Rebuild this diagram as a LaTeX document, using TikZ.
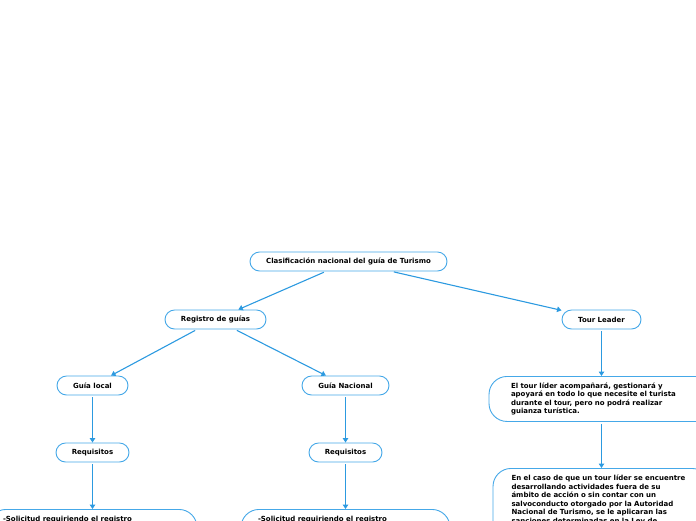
\documentclass[tikz,border=0pt]{standalone}
\usepackage{fontspec}
\setmainfont{DejaVu Sans}
\usetikzlibrary{arrows.meta}
\definecolor{edgeblue}{HTML}{2C9AE0}
\definecolor{boxblue}{HTML}{45A8E8}
\begin{document}
\begin{tikzpicture}[x=1pt,y=-1pt,
  pill/.style={draw=boxblue, line width=0.9pt, fill=white, rounded corners=9.5pt,
    minimum height=19pt, inner xsep=4pt, inner ysep=0pt,
    font=\fontsize{7}{8.5}\selectfont\bfseries},
  bigbox/.style={draw=boxblue, line width=0.9pt, fill=white, rounded corners=18pt,
    align=left, font=\fontsize{7}{8.5}\selectfont\bfseries},
  conn/.style={draw=edgeblue, line width=1.1pt,
    -{Triangle[length=4.5pt,width=5.5pt]}, shorten <=2pt}]
\useasboundingbox (0,0) rectangle (696,520);

\node[pill, minimum width=197pt] (top) at (348.5,261.5) {Clasificación nacional del guía de Turismo};
\node[pill, minimum width=101pt] (reg) at (215.5,319.5) {Registro de guías};
\node[pill, minimum width=79pt] (tl) at (601.5,319.5) {Tour Leader};
\node[pill, minimum width=71pt] (gl) at (92.5,385.5) {Guía local};
\node[pill, minimum width=87pt] (gn) at (345.5,385.5) {Guía Nacional};
\node[pill, minimum width=73pt] (rq1) at (92.5,452.5) {Requisitos};
\node[pill, minimum width=73pt] (rq2) at (345.5,452.5) {Requisitos};

\node[bigbox, text width=181pt, inner xsep=22pt, minimum height=45pt, anchor=north] (desc) at (601.5,376)
  {El tour líder acompañará, gestionará y\\apoyará en todo lo que necesite el turista\\durante el tour, pero no podrá realizar\\guianza turística.};
\node[bigbox, text width=180pt, inner xsep=18.5pt, inner ysep=7pt, text height=5.5pt, text depth=60pt, anchor=north] (sol3) at (601.5,468)
  {En el caso de que un tour líder se encuentre\\desarrollando actividades fuera de su\\ámbito de acción o sin contar con un\\salvoconducto otorgado por la Autoridad\\Nacional de Turismo, se le aplicaran las\\sanciones determinadas en la Ley de};
\node[bigbox, text width=179pt, inner xsep=15pt, inner ysep=7pt, text height=5.5pt, text depth=40pt, anchor=north] (sol1) at (92.5,509)
  {-Solicitud requiriendo el registro};
\node[bigbox, text width=175pt, inner xsep=17pt, inner ysep=7pt, text height=5.5pt, text depth=40pt, anchor=north] (sol2) at (345.5,509)
  {-Solicitud requiriendo el registro};

\draw[conn] (top) -- (reg);
\draw[conn] (top) -- (tl);
\draw[conn] (reg) -- (gl);
\draw[conn] (reg) -- (gn);
\draw[conn] (gl) -- (rq1);
\draw[conn] (gn) -- (rq2);
\draw[conn] (rq1) -- (sol1);
\draw[conn] (rq2) -- (sol2);
\draw[conn] (tl) -- (desc);
\draw[conn] (desc) -- (sol3);
\end{tikzpicture}
\end{document}
